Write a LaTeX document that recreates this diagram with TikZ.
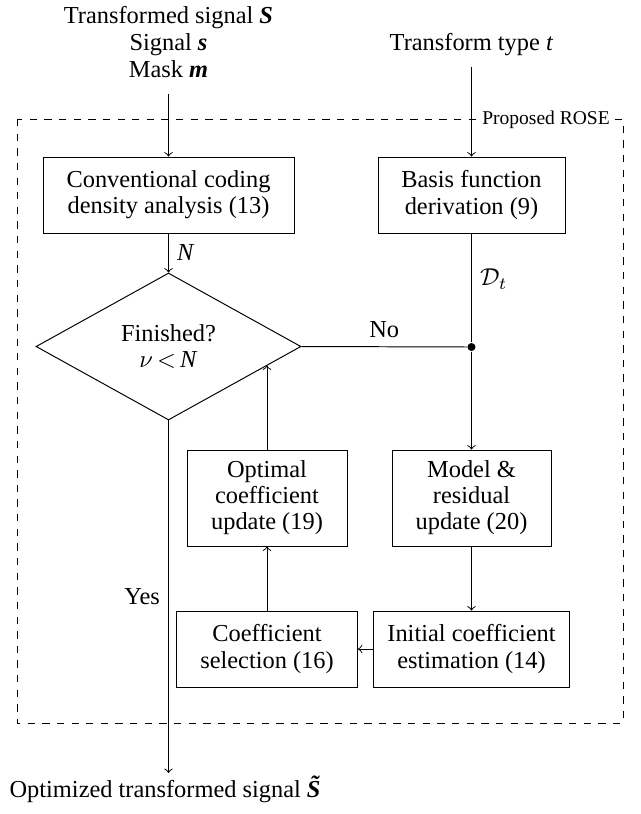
\documentclass[tikz,border=0pt]{standalone}
\usepackage{fontspec}
\setmainfont{Liberation Serif}
\usetikzlibrary{shapes.geometric,calc}
\begin{document}
\begin{tikzpicture}[x=0.41pt,y=-0.41pt,
  font=\fontsize{10}{10.7}\selectfont,
  box/.style={draw, align=center, minimum height=31.16pt},
  dia/.style={draw, shape=diamond, align=center, inner sep=0pt, aspect=1.8,
              minimum width=108.65pt, minimum height=60.27pt},
  junction/.style={circle, fill, inner sep=0pt, minimum size=3.3pt},
  roselabel/.style={fill=white, inner sep=1.5pt, font=\fontsize{8}{9.6}\selectfont}]
\useasboundingbox (0,0) rectangle (641,814);

% inputs
\node[align=center, outer sep=3.6pt, font=\fontsize{10}{10.9}\selectfont] (inS) at (168.5,42)
  {Transformed signal \textbf{\textit{S}}\\ Signal \textbf{\textit{s}}\\ Mask \textbf{\textit{m}}};
\node[anchor=base, outer sep=1.4pt] (inT) at (471.5,50) {Transform type \textit{t}};

% proposed ROSE frame
\draw[dashed] (17,119) rectangle (623,723);
\node[roselabel] (rose) at (546,119.5) {Proposed ROSE};

% blocks
\node[box, minimum width=102.91pt] (conv) at (168.5,195) {Conventional coding\\density analysis (13)};
\node[box, minimum width=76.67pt] (basis) at (471.5,195) {Basis function\\derivation (9)};
\node[dia, font=\fontsize{10}{11}\selectfont] (dia) at (168.5,346.5) {Finished?\\$\nu$\,$<$\,\textit{N}};
\node[junction] (dot) at (471.5,347) {};
\node[box, minimum width=65.6pt, minimum height=39.36pt] (opt) at (267,498) {Optimal\\coefficient\\update (19)};
\node[box, minimum width=65.19pt, minimum height=39.36pt] (model) at (471.5,498) {Model \&\\residual\\update (20)};
\node[box, minimum width=74.21pt] (sel) at (267,649) {Coefficient\\selection (16)};
\node[box, minimum width=80.36pt] (init) at (471.5,649) {Initial coefficient\\estimation (14)};

% output
\node[anchor=base, inner sep=1pt] (out) at (170,797) {Optimized transformed signal \textbf{\textit{\~S}}};

% connectors
\draw[->] (inS.south) -- (conv.north);
\draw[->] (inT.south) -- (basis.north);
\draw[->] (conv.south) -- node[right] {\textit{N}} (dia.north);
\draw (basis.south) -- node[right, pos=0.42] {$\mathcal{D}_t$} (dot);
\draw (dia.east) -- node[above] {No} (dot);
\draw[->] (dot) -- (model.north);
\draw[->] (model.south) -- (init.north);
\draw[->] (init.west) -- (sel.east);
\draw[->] (sel.north) -- (opt.south);
\coordinate (hit) at ($(dia.east)!0.2566!(dia.south)$);
\draw[->] (opt.north) -- (opt.north |- hit);
\draw[->] (dia.south) -- node[left] {Yes} (dia.south |- out.north);
\end{tikzpicture}
\end{document}
